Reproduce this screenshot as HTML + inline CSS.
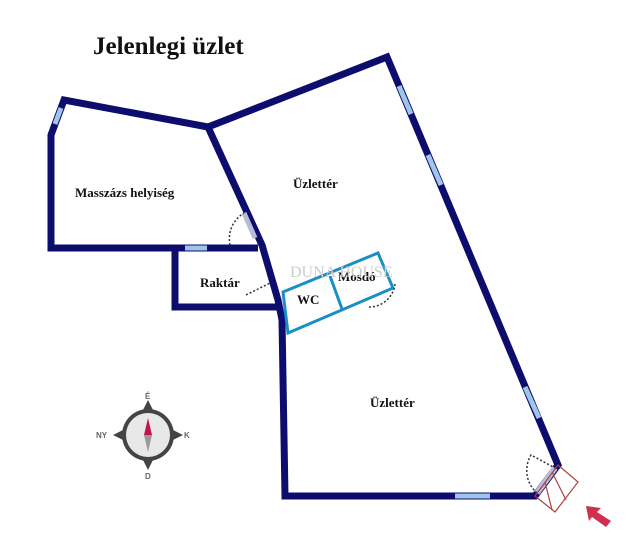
<!DOCTYPE html>
<html><head><style>body{margin:0;background:#fff}svg{display:block}</style></head><body>
<svg width="640" height="554" viewBox="0 0 640 554" xmlns="http://www.w3.org/2000/svg" font-family="Liberation Serif, serif" font-weight="bold">
<text x="93" y="54" font-size="25" fill="#111">Jelenlegi üzlet</text>
<g fill="none" stroke="#0d0d6e" stroke-width="7" stroke-linejoin="miter">
<polyline points="208,127 387,57 558,465 535,496 285,496 282,320 278,300 262,245 208,127"/>
<polyline points="208,127 64,100 51,135 51,248 258,248"/>
<polyline points="175,248 175,307 280,307"/>
</g>
<g stroke="#9fc6e8" stroke-width="5">
<line x1="399" y1="86" x2="411" y2="114"/>
<line x1="428" y1="155" x2="441" y2="185"/>
<line x1="525" y1="387" x2="539" y2="418"/>
<line x1="455" y1="496" x2="490" y2="496"/>
<line x1="185" y1="248" x2="207" y2="248"/>
<line x1="55" y1="124" x2="61" y2="108"/>
</g>
<line x1="537" y1="493" x2="555" y2="468" stroke="#b8bcd8" stroke-width="6"/>
<line x1="244" y1="213" x2="255" y2="238" stroke="#b8bcd8" stroke-width="5"/>
<g fill="none" stroke="#1b8ec6" stroke-width="3">
<polygon points="283,292 378,253 393,288 288,333"/>
<line x1="330" y1="276" x2="342" y2="309"/>
</g>
<g fill="none" stroke="#333" stroke-width="1.5" stroke-dasharray="2,2">
<path d="M230,245 A30,30 0 0 1 244,213"/>
<path d="M246,295 L270,283"/>
<path d="M395,284 A26,26 0 0 1 368,307"/>
<path d="M537,493 A30,30 0 0 1 531,455 L555,468"/>
</g>
<g fill="none" stroke="#b04040" stroke-width="1.2">
<polygon points="535,496 558,465 578,482 555,512"/>
<line x1="545" y1="482" x2="552" y2="510"/>
<line x1="552" y1="472" x2="566" y2="500"/>
</g>
<path d="M586,506 L601,508 L597,512 L611,521 L606,527 L592,517 L589,521 Z" fill="#d0304f"/>
<g font-size="13" fill="#111">
<text x="75" y="197">Masszázs helyiség</text>
<text x="293" y="188">Üzlettér</text>
<text x="370" y="407">Üzlettér</text>
<text x="200" y="287">Raktár</text>
<text x="297" y="304">WC</text>
<text x="338" y="281">Mosdó</text>
</g>
<text x="290" y="277" font-size="16" fill="#ccc" font-weight="normal">DUNA HOUSE</text>
<g>
<circle cx="148" cy="435" r="26" fill="#444"/>
<circle cx="148" cy="435" r="22" fill="#e8e8e8"/>
<polygon points="148,400 142,412 154,412" fill="#444"/>
<polygon points="148,470 142,458 154,458" fill="#444"/>
<polygon points="113,435 125,429 125,441" fill="#444"/>
<polygon points="183,435 171,429 171,441" fill="#444"/>
<polygon points="148,418 144,435 152,435" fill="#c0144a"/>
<polygon points="148,452 144,435 152,435" fill="#999"/>
<g font-family="Liberation Sans, sans-serif" font-size="8" fill="#666">
<text x="145" y="399">É</text><text x="145" y="479">D</text>
<text x="96" y="438">NY</text><text x="184" y="438">K</text>
</g>
</g>
</svg>
</body></html>
